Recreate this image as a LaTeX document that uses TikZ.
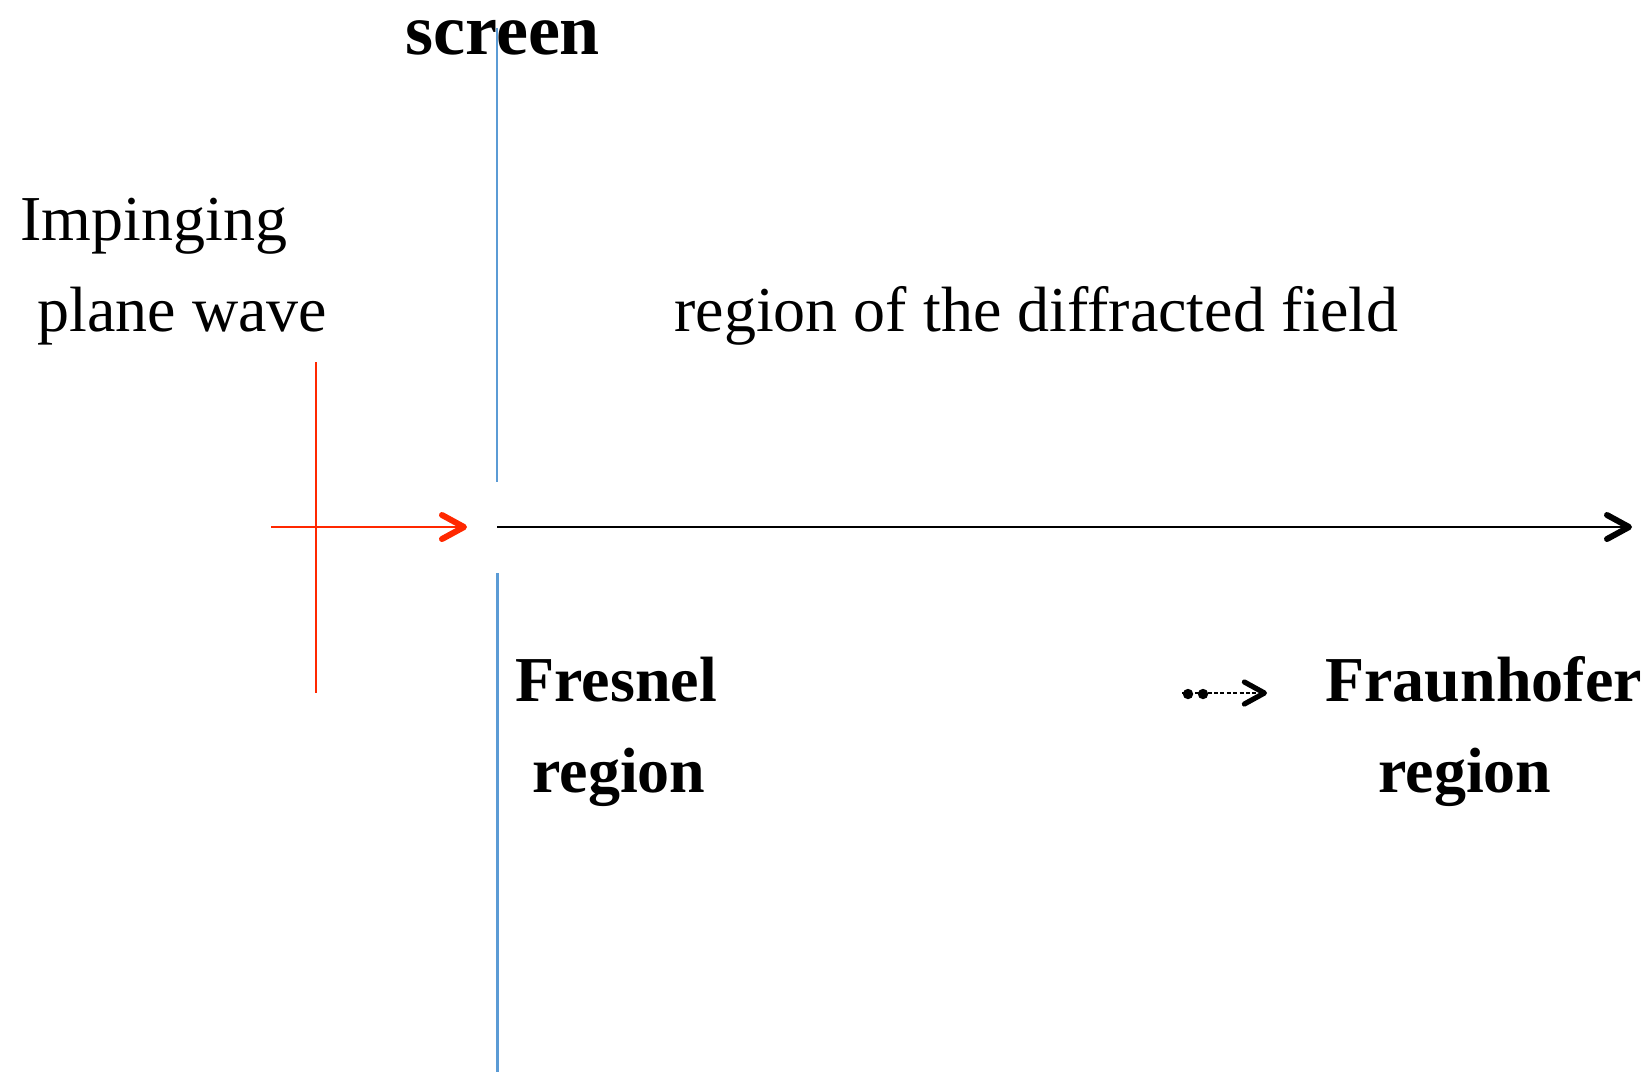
\documentclass[tikz,border=0pt]{standalone}
\usepackage{fontspec}
\setmainfont{Liberation Serif}
\usetikzlibrary{arrows.meta}
\definecolor{wavered}{RGB}{255,40,0}
\definecolor{screenblue}{RGB}{91,155,213}
\begin{document}
\begin{tikzpicture}[x=0.5pt,y=-0.5pt,
  txt/.style={anchor=base west, inner sep=0pt, font=\fontsize{32}{38}\selectfont},
  boldtxt/.style={anchor=base west, inner sep=0pt, font=\fontsize{32}{38}\selectfont\bfseries},
  barb/.style={-{Straight Barb[length=11pt,width=12pt,line width=3pt,round]}},
  smallbarb/.style={-{Straight Barb[length=10pt,width=11pt,line width=2.6pt,round]}},
  wave/.style={draw=wavered, line width=1pt},
  screenline/.style={draw=screenblue},
]
\useasboundingbox (0,0) rectangle (1652,1083);

% labels
\node[anchor=base west, inner sep=0pt, text height=0.55em,
      font=\fontsize{36}{42}\selectfont\bfseries] (screenlbl) at (405,54) {screen};
\node[txt] (imp1) at (20,240) {Impinging};
\node[txt] (imp2) at (37,331) {plane wave};
\node[txt] (field) at (674,331) {region of the diffracted field};
\node[boldtxt] (fres1) at (515,701) {Fresnel};
\node[boldtxt] (fres2) at (532,792) {region};
\node[boldtxt] (frau1) at (1325,701) {Fraunhofer};
\node[boldtxt] (frau2) at (1378,792) {region};

% geometry points
\coordinate (scrTopA) at (497,28);
\coordinate (scrTopB) at (497,482);
\coordinate (scrBotA) at (497,573);
\coordinate (scrBotB) at (497,1072);
\coordinate (waveTop) at (316,362);
\coordinate (waveBot) at (316,693);
\coordinate (kStart) at (271,527);
\coordinate (kEnd) at (467,527);
\coordinate (axStart) at (497,527);
\coordinate (axEnd) at (1632,527);
\coordinate (trStart) at (1182,693);
\coordinate (trEnd) at (1267,693);
\coordinate (dotA) at (1188,694);
\coordinate (dotB) at (1203,694);

% screen with aperture
\draw[screenline, line width=1pt] (scrTopA) -- (scrTopB);
\draw[screenline, line width=1.5pt] (scrBotA) -- (scrBotB);

% incident plane wave: wavefront and propagation direction
\draw[wave] (waveTop) -- (waveBot);
\draw[wave, barb] (kStart) -- (kEnd);

% propagation axis behind the screen
\draw[line width=1pt, barb] (axStart) -- (axEnd);

% transition from Fresnel to Fraunhofer
\draw[line width=0.8pt, dash pattern=on 2pt off 1.2pt, smallbarb] (trStart) -- (trEnd);
\fill (dotA) circle[radius=2.6pt];
\fill (dotB) circle[radius=2.6pt];
\end{tikzpicture}
\end{document}
